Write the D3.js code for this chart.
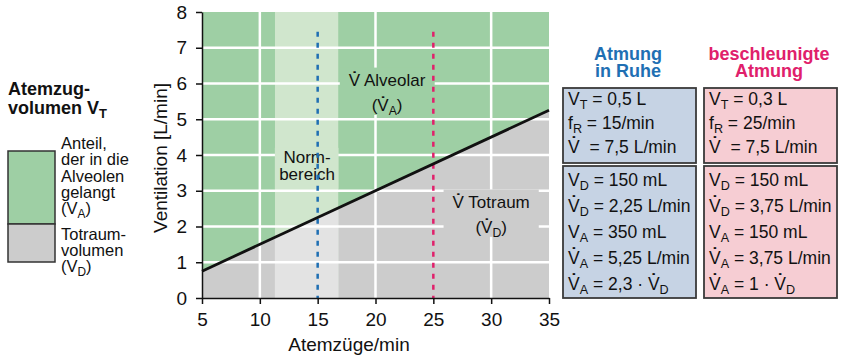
<!DOCTYPE html>
<html>
<head>
<meta charset="utf-8">
<script src="https://cdn.jsdelivr.net/npm/d3@7"></script>
<style>
  body { margin: 0; background: #fff; }
  svg { font-family: "Liberation Sans", Arial, sans-serif; }
  text { white-space: pre; }
</style>
</head>
<body>
<script>
// data
const xTicks = [5, 10, 15, 20, 25, 30, 35];
const yTicks = [0, 1, 2, 3, 4, 5, 6, 7, 8];
const deadLine = [[5, 0.75], [35, 5.25]];   // Totraum-Ventilation bei V_D = 150 mL
const normRange = [11.3, 16.8];
const markerRates = [15, 25];
const markerTop = 7.45;
const gridX = [10, 20, 30];
const gridY = [1, 2, 3, 4, 5, 6, 7];

const legendTitle = ["Atemzug-", "volumen V_T"];
const legendAlv = ["Anteil,", "der in die", "Alveolen", "gelangt", "(V_A)"];
const legendDead = ["Totraum-", "volumen", "(V_D)"];

const restTitle = ["Atmung", "in Ruhe"];
const restHead = ["V_T = 0,5 L", "f_R = 15/min", "V\u0307  = 7,5 L/min"];
const restCalc = ["V_D = 150 mL", "V\u0307_D = 2,25 L/min", "V_A = 350 mL", "V\u0307_A = 5,25 L/min", "V\u0307_A = 2,3 \u00b7 V\u0307_D"];
const fastTitle = ["beschleunigte", "Atmung"];
const fastHead = ["V_T = 0,3 L", "f_R = 25/min", "V\u0307  = 7,5 L/min"];
const fastCalc = ["V_D = 150 mL", "V\u0307_D = 3,75 L/min", "V_A = 150 mL", "V\u0307_A = 3,75 L/min", "V\u0307_A = 1 \u00b7 V\u0307_D"];

const GREEN = "#9ecfa4", GREEN_L = "#d0e6cd", GRAY = "#cccccc", GRAY_L = "#e3e3e3";
const BLUE = "#1f6fb3", PINK = "#e0206b";

const svg = d3.select("body").append("svg")
  .attr("width", 848).attr("height", 361);

const x = d3.scaleLinear().domain([5, 35]).range([202, 549]);
const y = d3.scaleLinear().domain([0, 8]).range([298, 12]);

// rich text: "_X" = subscript, "V\u0307" = V with dot (drawn as spacing dot over V)
function rich(t, str, fs) {
  const parts = str.split(/(_.|V\u0307)/).filter(p => p);
  const sub = 0.23 * fs;
  let dx = 0, dy = 0;
  parts.forEach(p => {
    if (p === "V\u0307") {
      t.append("tspan").attr("dx", dx).attr("dy", dy).text("V");
      t.append("tspan").attr("dx", -0.5 * fs).attr("dy", -0.2 * fs)
        .attr("font-weight", "bold").text("\u02d9");
      dx = 0.167 * fs; dy = 0.2 * fs;
    } else if (p[0] === "_") {
      t.append("tspan").attr("dx", dx).attr("dy", dy + sub).attr("font-size", "72%").text(p[1]);
      dx = 0; dy = -sub;
    } else {
      t.append("tspan").attr("dx", dx).attr("dy", dy).text(p);
      dx = 0; dy = 0;
    }
  });
}

// background
const plot = svg.append("g");
plot.append("rect")
  .attr("x", x(5)).attr("y", y(8))
  .attr("width", x(35) - x(5)).attr("height", y(0) - y(8))
  .attr("fill", GREEN);

const area = d3.area().x(d => x(d[0])).y0(y(0)).y1(d => y(d[1]));
plot.append("path").datum(deadLine).attr("d", area).attr("fill", GRAY);

svg.append("clipPath").attr("id", "band")
  .append("rect")
  .attr("x", x(normRange[0])).attr("y", y(8))
  .attr("width", x(normRange[1]) - x(normRange[0])).attr("height", y(0) - y(8));
const band = plot.append("g").attr("clip-path", "url(#band)");
band.append("rect")
  .attr("x", x(normRange[0])).attr("y", y(8))
  .attr("width", x(normRange[1]) - x(normRange[0])).attr("height", y(0) - y(8))
  .attr("fill", GREEN_L);
band.append("path").datum(deadLine).attr("d", area).attr("fill", GRAY_L);

// grid
plot.selectAll(".gy").data(gridY).enter().append("line")
  .attr("x1", x(5)).attr("x2", x(35))
  .attr("y1", d => y(d)).attr("y2", d => y(d))
  .attr("stroke", "#fff").attr("stroke-width", 2.5);
plot.selectAll(".gx").data(gridX).enter().append("line")
  .attr("x1", d => x(d)).attr("x2", d => x(d))
  .attr("y1", y(0)).attr("y2", y(8))
  .attr("stroke", "#fff").attr("stroke-width", 2.5);

// labels in the plot with masking box
function label(lines, fx, fy, fill, clipX) {
  const g = svg.append("g");
  const bg = g.append("rect").attr("fill", fill);
  const texts = lines.map((s, i) => {
    const t = g.append("text")
      .attr("x", x(fx)).attr("y", y(fy) + i * 25)
      .attr("text-anchor", "middle").attr("font-size", 17).attr("fill", "#111");
    rich(t, s, 17);
    return t;
  });
  const bb = g.node().getBBox();
  let x0 = bb.x - 9, x1 = bb.x + bb.width + 9;
  if (clipX) { x0 = x(clipX[0]); x1 = x(clipX[1]); }
  bg.attr("x", x0).attr("y", bb.y).attr("width", x1 - x0).attr("height", bb.height - 3);
  return texts;
}
label(["V\u0307 Alveolar", "(V\u0307_A)"], 21.0, 5.93, GREEN);
const norm = label(["Norm-", "bereich"], 14.08, 3.78, GREEN_L, normRange);
norm[1].attr("y", y(3.3));
label(["V\u0307 Totraum", "(V\u0307_D)"], 30.0, 2.52, GRAY);

// marker lines
svg.selectAll(".mk").data(markerRates).enter().append("line")
  .attr("x1", d => x(d)).attr("x2", d => x(d))
  .attr("y1", y(markerTop)).attr("y2", y(0))
  .attr("stroke", (d, i) => i === 0 ? BLUE : PINK)
  .attr("stroke-width", 2.5).attr("stroke-dasharray", "5,6");

// dead space line
svg.append("path").datum(deadLine)
  .attr("d", d3.line().x(d => x(d[0])).y(d => y(d[1])))
  .attr("stroke", "#111").attr("stroke-width", 2.8).attr("fill", "none");

// axes
const xAxis = svg.append("g").attr("transform", `translate(0,${y(0)})`)
  .call(d3.axisBottom(x).tickValues(xTicks).tickSize(6).tickPadding(9).tickSizeOuter(0));
const yAxis = svg.append("g").attr("transform", `translate(${x(5)},0)`)
  .call(d3.axisLeft(y).tickValues(yTicks).tickSize(6).tickPadding(9).tickSizeOuter(0));
[xAxis, yAxis].forEach(a => {
  a.selectAll("text").attr("font-size", 19).attr("fill", "#111").attr("font-family", "Liberation Sans, Arial, sans-serif");
  a.selectAll("line, path").attr("stroke", "#111").attr("stroke-width", 1.5);
});

svg.append("text").attr("x", 349).attr("y", 351)
  .attr("text-anchor", "middle").attr("font-size", 19).attr("fill", "#111")
  .text("Atemzüge/min");
svg.append("text").attr("transform", "translate(167,158) rotate(-90)")
  .attr("text-anchor", "middle").attr("font-size", 19).attr("fill", "#111")
  .text("Ventilation [L/min]");

// left legend
legendTitle.forEach((s, i) => {
  const t = svg.append("text").attr("x", 8).attr("y", 95 + i * 19)
    .attr("font-size", 18).attr("font-weight", "bold").attr("fill", "#111");
  rich(t, s, 18);
});
svg.append("rect").attr("x", 8).attr("y", 151).attr("width", 47).attr("height", 73)
  .attr("fill", GREEN).attr("stroke", "#333").attr("stroke-width", 1.5);
svg.append("rect").attr("x", 8).attr("y", 224).attr("width", 47).attr("height", 38)
  .attr("fill", GRAY).attr("stroke", "#333").attr("stroke-width", 1.5);
legendAlv.forEach((s, i) => {
  const t = svg.append("text").attr("x", 61).attr("y", 149 + i * 16.3)
    .attr("font-size", 16.5).attr("fill", "#111");
  rich(t, s, 16.5);
});
legendDead.forEach((s, i) => {
  const t = svg.append("text").attr("x", 61).attr("y", 240 + i * 16)
    .attr("font-size", 16.5).attr("fill", "#111");
  rich(t, s, 16.5);
});

// right info boxes
function panel(cx, bx, title, color, fill, head, calc) {
  title.forEach((s, i) => {
    svg.append("text").attr("x", cx).attr("y", 60 + i * 17)
      .attr("text-anchor", "middle").attr("font-size", 18).attr("font-weight", "bold")
      .attr("fill", color).text(s);
  });
  svg.append("rect").attr("x", bx).attr("y", 88).attr("width", 133).attr("height", 75)
    .attr("fill", fill).attr("stroke", "#3a3a3a").attr("stroke-width", 1.8);
  svg.append("rect").attr("x", bx).attr("y", 166).attr("width", 133).attr("height", 132)
    .attr("fill", fill).attr("stroke", "#3a3a3a").attr("stroke-width", 1.8);
  head.forEach((s, i) => {
    const t = svg.append("text").attr("x", bx + 5).attr("y", 105 + i * 24)
      .attr("font-size", 17.5).attr("fill", "#111");
    rich(t, s, 17.5);
  });
  calc.forEach((s, i) => {
    const t = svg.append("text").attr("x", bx + 5).attr("y", 186 + i * 26)
      .attr("font-size", 17.5).attr("fill", "#111");
    rich(t, s, 17.5);
  });
}
panel(628, 563, restTitle, BLUE, "#c6d3e4", restHead, restCalc);
panel(769, 704, fastTitle, PINK, "#f6cdd3", fastHead, fastCalc);
</script>
</body>
</html>
